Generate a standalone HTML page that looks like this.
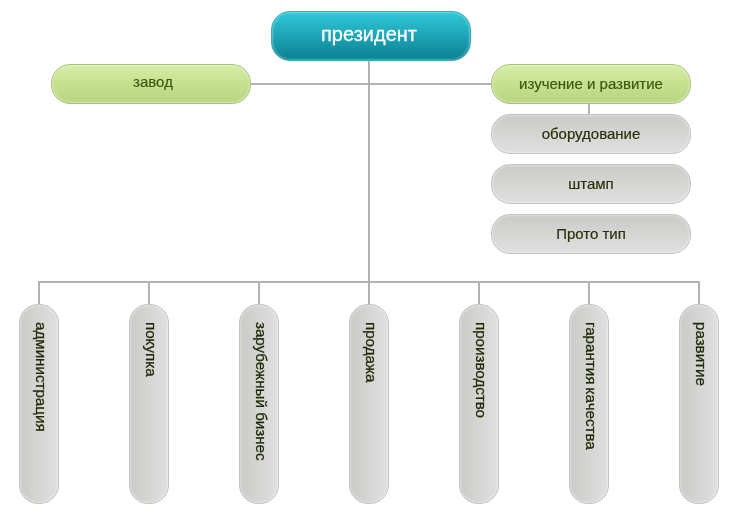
<!DOCTYPE html>
<html><head><meta charset="utf-8">
<style>
html,body{margin:0;padding:0;background:#fff;}
body{width:740px;height:520px;position:relative;overflow:hidden;font-family:"Liberation Sans",sans-serif;}
.ln{position:absolute;background:#b2b2b2;}
.box{position:absolute;box-sizing:border-box;white-space:nowrap;}
.pres{left:271px;top:11px;width:200px;height:50px;border-radius:19px;border:1px solid #3aa9b8;
 background:linear-gradient(to bottom,#30c8d8 0%,#1da5b6 50%,#0b7f90 100%);
 box-shadow:inset 0 0 2px 1px rgba(255,255,255,.33);color:#fff;font-size:20px;}
.grn{width:200px;height:40px;border-radius:19px;border:1px solid #a5c574;
 background:linear-gradient(to bottom,#d6eca6 0%,#c6e091 50%,#b7d580 100%);
 box-shadow:inset 0 0 2px 1px rgba(255,255,255,.4);color:#3e5d10;font-size:15px;}
.gry{width:200px;height:40px;border-radius:19px;border:1px solid #c3c4c1;
 background:linear-gradient(to bottom,#cacbc8 0%,#d5d5d4 50%,#dfdfdf 100%);
 box-shadow:inset 0 0 2px 1px rgba(255,255,255,.4);color:#2c3810;font-size:15px;}
.vp{position:absolute;box-sizing:border-box;top:304px;width:40px;height:200px;border-radius:19px;border:1px solid #c3c4c1;
 background:linear-gradient(to right,#cacbc8 0%,#d5d5d4 50%,#dfdfdf 100%);
 box-shadow:inset 0 0 2px 1px rgba(255,255,255,.4);color:#2c3810;font-size:15px;}
.box span,.vp span{will-change:transform;}
.box span{position:absolute;left:-1px;width:200px;text-align:center;top:9px;line-height:18px;}
.pres span{top:10px;left:-3px;line-height:24px;-webkit-text-stroke:0.3px #fff;}
.gry span{top:10px;color:#27320c;-webkit-text-stroke:0.2px #27320c;}
.grn span{-webkit-text-stroke:0.2px #3b590e;color:#3b590e;}
.vp span{position:absolute;left:1.5px;top:17px;width:38px;writing-mode:vertical-rl;white-space:nowrap;line-height:38px;font-size:15.15px;-webkit-text-stroke:0.3px #1e2904;color:#1e2904;}
</style></head><body>
<div class="ln" style="left:368px;top:60px;width:2px;height:245px"></div>
<div class="ln" style="left:250px;top:83px;width:242px;height:2px"></div>
<div class="ln" style="left:38px;top:281px;width:662px;height:2px"></div>
<div class="ln" style="left:588px;top:103px;width:2px;height:12px"></div>
<div class="ln" style="left:38px;top:281px;width:2px;height:24px"></div>
<div class="ln" style="left:148px;top:281px;width:2px;height:24px"></div>
<div class="ln" style="left:258px;top:281px;width:2px;height:24px"></div>
<div class="ln" style="left:478px;top:281px;width:2px;height:24px"></div>
<div class="ln" style="left:588px;top:281px;width:2px;height:24px"></div>
<div class="ln" style="left:698px;top:281px;width:2px;height:24px"></div>

<div class="box pres"><span id="t0">президент</span></div>
<div class="box grn" style="left:51px;top:64px"><span id="t1" style="top:8px;left:1px">завод</span></div>
<div class="box grn" style="left:491px;top:64px"><span id="t2" style="top:10px">изучение и развитие</span></div>
<div class="box gry" style="left:491px;top:114px"><span id="t3">оборудование</span></div>
<div class="box gry" style="left:491px;top:164px"><span id="t4">штамп</span></div>
<div class="box gry" style="left:491px;top:214px"><span id="t5">Прото тип</span></div>

<div class="vp" style="left:19px"><span id="v0">администрация</span></div>
<div class="vp" style="left:129px"><span id="v1">покупка</span></div>
<div class="vp" style="left:239px"><span id="v2">зарубежный бизнес</span></div>
<div class="vp" style="left:349px"><span id="v3">продажа</span></div>
<div class="vp" style="left:459px"><span id="v4">производство</span></div>
<div class="vp" style="left:569px"><span id="v5" style="word-spacing:-1px">гарантия качества</span></div>
<div class="vp" style="left:679px"><span id="v6">развитие</span></div>
</body></html>
